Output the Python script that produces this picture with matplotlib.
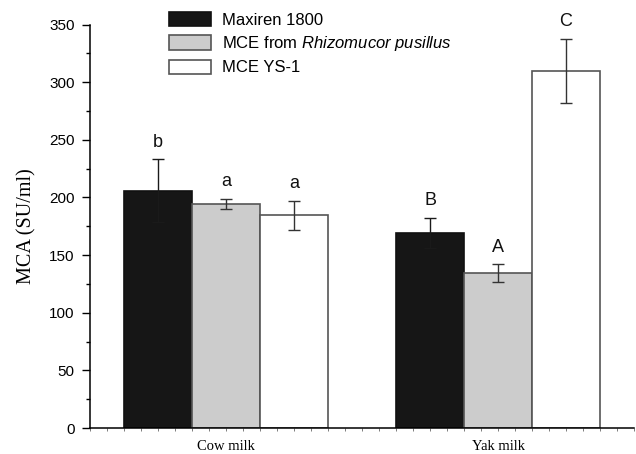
import numpy as np
import matplotlib
matplotlib.use('Agg')
from matplotlib import pyplot as plt
from matplotlib.ticker import MultipleLocator

groups = ['Cow milk', 'Yak milk']
series = ['Maxiren 1800', 'MCE from $\\it{Rhizomucor\\ pusillus}$', 'MCE YS-1']
values = [[206, 169.5], [194.5, 134.5], [184.5, 309.5]]
errors = [[27, 13], [4.5, 7.5], [12.5, 28]]
letters = [['b', 'B'], ['a', 'A'], ['a', 'C']]

fills = ['#161616', '#cccccc', '#ffffff']
edges = ['#111111', '#555555', '#555555']
errcols = ['#1a1a1a', '#333333', '#333333']

plt.rcParams['font.family'] = ['Liberation Sans', 'DejaVu Sans']
plt.rcParams['mathtext.fontset'] = 'custom'
plt.rcParams['mathtext.it'] = 'Liberation Sans:italic'
plt.rcParams['mathtext.rm'] = 'Liberation Sans'

fig = plt.figure(figsize=(6.36, 4.54), dpi=100)
ax = fig.add_axes([90 / 636, 26 / 454, 544 / 636, 403.5 / 454])

x = np.arange(len(groups))
w = 0.25
for i in range(len(series)):
    pos = x + (i - 1) * w
    ax.bar(pos, values[i], w, color=fills[i], edgecolor=edges[i], linewidth=1.2,
           label=series[i], zorder=2)
    ax.errorbar(pos, values[i], yerr=errors[i], fmt='none', ecolor=errcols[i],
                elinewidth=1.0, capsize=4, capthick=1.0, zorder=3)
    for j in range(len(groups)):
        ax.annotate(letters[i][j], (pos[j], values[i][j] + errors[i][j]),
                    xytext=(0, 9), textcoords='offset points', ha='center',
                    va='baseline', fontsize=13, color='#111111')

ax.set_xlim(-0.5, 1.5)
ax.set_ylim(0, 350)
ax.yaxis.set_major_locator(MultipleLocator(50))
ax.yaxis.set_minor_locator(MultipleLocator(25))
ax.set_xticks(x)
ax.set_xticklabels(groups, family='Liberation Serif', fontsize=10.5)
ax.xaxis.set_minor_locator(MultipleLocator(1 / 16))
ax.tick_params(axis='x', which='both', length=2.5, width=0.6, color='#666666', pad=6)
ax.tick_params(axis='y', which='major', length=6, width=1, labelsize=11, pad=5)
ax.tick_params(axis='y', which='minor', length=3, width=1)
ax.set_ylabel('MCA (SU/ml)', family='Liberation Serif', fontsize=14.5, labelpad=9)

ax.spines['top'].set_visible(False)
ax.spines['right'].set_visible(False)
ax.spines['left'].set_linewidth(1.1)
ax.spines['bottom'].set_linewidth(1.1)

ax.legend(loc='upper left', bbox_to_anchor=(169 / 636, 1 - 12 / 454),
          bbox_transform=fig.transFigure, frameon=False, fontsize=12,
          handlelength=2.5, handleheight=0.95, handletextpad=0.65,
          labelspacing=0.38, borderpad=0, borderaxespad=0)

fig.savefig('out.png', dpi=100)
